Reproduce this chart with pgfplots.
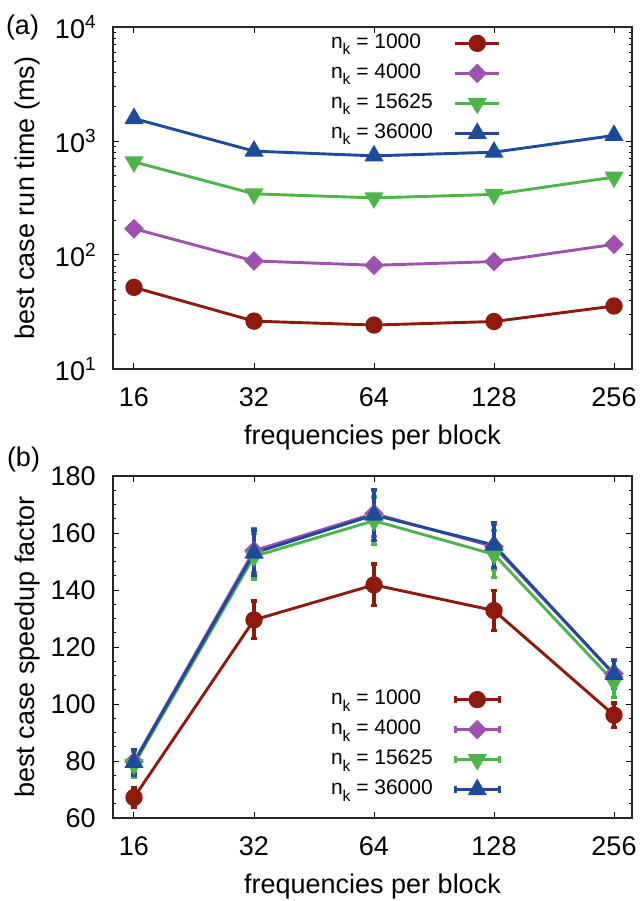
\documentclass[border=0pt]{standalone}
\usepackage{fontspec}
\setmainfont{Liberation Sans}
\usepackage{pgfplots}
\usepackage{pgfplotstable}
\usetikzlibrary{arrows.meta}
\pgfplotsset{compat=1.18}

\definecolor{cRed}{RGB}{142,26,14}
\definecolor{cPur}{RGB}{160,80,176}
\definecolor{cGrn}{RGB}{77,181,72}
\definecolor{cBlu}{RGB}{30,74,156}

\pgfplotstableread{
x y
4 52
5 26.3
6 24.3
7 26.1
8 35.7
}\runA
\pgfplotstableread{
x y
4 170
5 88.7
6 81.3
7 87.5
8 124
}\runB
\pgfplotstableread{
x y
4 656
5 344
6 317
7 340
8 482
}\runC
\pgfplotstableread{
x y
4 1575
5 815
6 741
7 798
8 1119
}\runD

\pgfplotstableread{
x y e
4 67.2 3.9
5 129.5 7.2
6 141.8 7.9
7 132.8 7.6
8 96.1 4.8
}\spA
\pgfplotstableread{
x y e
4 79.8 4.5
5 153.8 8.2
6 166.8 8.7
7 155.2 8.5
8 110.6 5.5
}\spB
\pgfplotstableread{
x y e
4 78.8 5.0
5 151.8 8.5
6 164.3 8.9
7 152.5 8.8
8 107.8 6.0
}\spC
\pgfplotstableread{
x y e
4 79.5 5.0
5 153.0 8.6
6 166.3 9.6
7 155.8 8.5
8 110.4 5.5
}\spD

\newcommand{\nk}{n\raisebox{-3.2pt}{\fontsize{7.8}{8}\selectfont k}}
\newcommand{\sups}[1]{10\raisebox{5.3pt}{\fontsize{9.5}{10}\selectfont #1}}
\newcommand{\lblfont}{\fontsize{13.5}{15}\selectfont}

\pgfplotsset{
  panel/.style={
    scale only axis, width=259.5pt, height=171pt,
    xmin=3.825, xmax=8.15,
    xtick={4,5,6,7,8}, xticklabels={16,32,64,128,256},
    /pgf/number format/assume math mode=true,
    tick align=inside, tick pos=both,
    major tick length=2.8pt, minor tick length=1.6pt,
    axis line style={line width=0.6pt, black!85},
    every tick/.style={line width=0.5pt, black},
    tick label style={font=\lblfont, inner sep=0pt},
    xticklabel shift=9.25pt, yticklabel shift=8.5pt,
    every axis x label/.style={at={(axis description cs:0.5,-0.2)}, anchor=center, font=\lblfont},
    every axis y label/.style={at={(axis description cs:-0.164,0.5)}, rotate=90, anchor=center, font=\lblfont},
    xlabel={frequencies per block},
    legend cell align=left, legend plot pos=right,
    legend style={draw=none, fill=none, inner sep=0pt, outer sep=0pt, anchor=north west,
      font=\fontsize{10.5}{12}\selectfont,
      nodes={inner sep=2.5pt, text height=7.5pt, text depth=2.5pt},
      column sep=8pt},
  },
  sA/.style={color=cRed, line width=1.45pt, mark=*, mark size=3.6pt, mark options={solid}},
  sB/.style={color=cPur, line width=1.45pt, mark=square*, mark size=2.75pt, mark options={solid, rotate=45}},
  sC/.style={color=cGrn, line width=1.45pt, mark=triangle*, mark size=4.1pt, mark options={solid, rotate=180}},
  sD/.style={color=cBlu, line width=1.45pt, mark=triangle*, mark size=4.1pt, mark options={solid}},
  eb/.style={error bars/.cd, y dir=both, y explicit,
    draw error bar/.code 2 args={\draw[line width=1.75pt, solid, {Bar[width=3pt,line width=1.6pt]}-{Bar[width=3pt,line width=1.6pt]}] ##1 -- ##2;}},
  lineleg/.style={legend image code/.code={
    \draw[mark repeat=2, mark phase=2, ##1] plot coordinates {(0pt,0pt) (11pt,0pt) (22pt,0pt)};}},
  errleg/.style={legend image code/.code={
    \draw[##1, mark=none] (0pt,-1.6pt) -- (0pt,1.6pt) (22pt,-1.6pt) -- (22pt,1.6pt);
    \draw[mark repeat=2, mark phase=2, ##1] plot coordinates {(0pt,0pt) (11pt,0pt) (22pt,0pt)};}},
}

\begin{document}
\begin{tikzpicture}
\useasboundingbox (0,0) rectangle (319.5pt,450.5pt);

\begin{axis}[panel, at={(56.5pt,266pt)}, anchor=south west,
  ymode=log, ymin=10, ymax=10000,
  ytick={10,100,1000,10000},
  yticklabels={\sups{1},\sups{2},\sups{3},\sups{4}},
  minor ytick={20,30,40,50,60,70,80,90,200,300,400,500,600,700,800,900,2000,3000,4000,5000,6000,7000,8000,9000},
  ylabel={best case run time (ms)},
  lineleg,
  legend style={at={(axis description cs:0.4104,0.996)}},
]
\addplot[sA] table[x=x,y=y] {\runA};
\addlegendentry{\nk{} = 1000}
\addplot[sB] table[x=x,y=y] {\runB};
\addlegendentry{\nk{} = 4000}
\addplot[sC] table[x=x,y=y] {\runC};
\addlegendentry{\nk{} = 15625}
\addplot[sD] table[x=x,y=y] {\runD};
\addlegendentry{\nk{} = 36000}
\end{axis}

\begin{axis}[panel, at={(56.5pt,41.5pt)}, anchor=south west,
  ymin=60, ymax=180, ytick={60,80,...,180}, minor y tick num=3,
  ylabel={best case speedup factor},
  errleg,
  legend style={at={(axis description cs:0.4104,0.39)}},
]
\addplot[sA, eb] table[x=x,y=y,y error=e] {\spA};
\addlegendentry{\nk{} = 1000}
\addplot[sB, eb] table[x=x,y=y,y error=e] {\spB};
\addlegendentry{\nk{} = 4000}
\addplot[sC, eb] table[x=x,y=y,y error=e] {\spC};
\addlegendentry{\nk{} = 15625}
\addplot[sD, eb] table[x=x,y=y,y error=e] {\spD};
\addlegendentry{\nk{} = 36000}
\end{axis}

\node[font=\lblfont, inner sep=0pt] at (11.25pt,436.75pt) {(a)};
\node[font=\lblfont, inner sep=0pt] at (11.75pt,220.5pt) {(b)};
\end{tikzpicture}
\end{document}
